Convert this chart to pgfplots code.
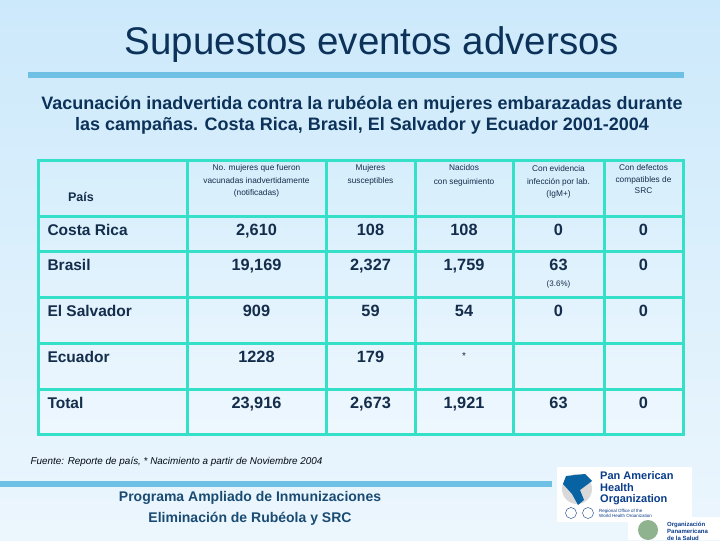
\documentclass[border=0pt]{standalone}
\usepackage{pgfplots}
\pgfplotsset{compat=1.18}
\usepackage{pgfplotstable}
\usepackage{fontspec}
\setmainfont{Liberation Sans}
\definecolor{bgtop}{RGB}{204,233,251}
\definecolor{bgbot}{RGB}{236,246,253}
\definecolor{celltop}{RGB}{214,238,252}
\definecolor{cellbot}{RGB}{238,247,254}
\definecolor{navy}{RGB}{12,50,90}
\definecolor{tnavy}{RGB}{20,45,75}
\definecolor{turq}{RGB}{52,225,200}
\definecolor{barblue}{RGB}{110,192,228}
\definecolor{progblue}{RGB}{25,75,115}
\definecolor{pahoblue}{RGB}{10,60,140}
\pgfplotstableread{
x y label
256.5 232 2,610
370.5 232 108
464 232 108
558.5 232 0
643.5 232 0
256.5 267 19,169
370.5 267 2,327
464 267 1,759
558.5 267 63
643.5 267 0
256.5 313 909
370.5 313 59
464 313 54
558.5 313 0
643.5 313 0
256.5 359 1228
370.5 359 179
256.5 405 23,916
370.5 405 2,673
464 405 1,921
558.5 405 63
643.5 405 0
}\values
\begin{document}
\begin{tikzpicture}
\begin{axis}[width=720pt,height=540pt,scale only axis,
  xmin=0,xmax=720,ymin=0,ymax=540,y dir=reverse,hide axis,clip=false]
% background
\fill[top color=bgtop,bottom color=bgbot] (axis cs:0,0) rectangle (axis cs:720,540);
% title
\node[navy,font=\fontsize{38.5}{42}\selectfont] at (axis cs:372,45) {Supuestos eventos adversos};
\fill[barblue] (axis cs:28,72) rectangle (axis cs:684,78);
\node[navy,font=\bfseries\fontsize{18}{21}\selectfont,align=center] at (axis cs:362,115)
  {Vacunación inadvertida contra la rubéola en mujeres embarazadas durante\\
   las campañas. Costa Rica, Brasil, El Salvador y Ecuador 2001-2004};
% table background
\fill[top color=celltop,bottom color=cellbot] (axis cs:38,160) rectangle (axis cs:683,434);
% grid
\pgfplotsinvokeforeach{38,187,326,415,513,604,683}{
  \draw[turq,line width=3pt] (axis cs:#1,160) -- (axis cs:#1,434);}
\pgfplotsinvokeforeach{160,216,251,297,343,389,434}{
  \draw[turq,line width=3pt] (axis cs:36.5,#1) -- (axis cs:684.5,#1);}
% header
\node[tnavy,font=\bfseries\fontsize{12.5}{14}\selectfont] at (axis cs:81,197) {País};
\begin{scope}[every node/.style={tnavy,align=center,anchor=north,font=\fontsize{8.3}{12.5}\selectfont}]
\node at (axis cs:256.5,161) {No. mujeres que fueron\\vacunadas inadvertidamente\\(notificadas)};
\node at (axis cs:370.5,161) {Mujeres\\susceptibles};
\node[font=\fontsize{8.3}{14}\selectfont] at (axis cs:464,161) {Nacidos\\con seguimiento};
\node at (axis cs:558.5,162) {Con evidencia\\infección por lab.\\(IgM+)};
\node[font=\fontsize{8.3}{11.5}\selectfont] at (axis cs:643.5,161) {Con defectos\\compatibles de\\SRC};
\end{scope}
% row labels
\begin{scope}[every node/.style={tnavy,anchor=west,font=\bfseries\fontsize{15.5}{18}\selectfont,
  text height=1.38ex,text depth=0pt}]
\node at (axis cs:44,232) {Costa Rica};
\node at (axis cs:44,267) {Brasil};
\node at (axis cs:44,313) {El Salvador};
\node at (axis cs:44,359) {Ecuador};
\node at (axis cs:44,405) {Total};
\end{scope}
% values
\addplot[draw=none,mark=none,nodes near coords,point meta=explicit symbolic,
  nodes near coords align={center},
  every node near coord/.append style={tnavy,font=\bfseries\fontsize{16.3}{18}\selectfont,
    text height=1.38ex,text depth=0pt}]
  table[x=x,y=y,meta=label] {\values};
\node[tnavy,font=\fontsize{8}{10}\selectfont] at (axis cs:558.5,284) {(3.6\%)};
\node[tnavy,font=\fontsize{10}{10}\selectfont] at (axis cs:464,356) {*};
% footnote
\node[anchor=west,font=\itshape\fontsize{9.9}{11}\selectfont,black!80!navy] at (axis cs:27,462)
  {Fuente: Reporte de país, * Nacimiento a partir de Noviembre 2004};
\fill[barblue] (axis cs:0,481) rectangle (axis cs:552,487);
\node[progblue,font=\bfseries\fontsize{14}{21}\selectfont,align=center] at (axis cs:250,508)
  {Programa Ampliado de Inmunizaciones\\Eliminación de Rubéola y SRC};
% PAHO logo
\fill[white] (axis cs:557,467) rectangle (axis cs:692,522);
\fill[white!85!black] (axis cs:577,489) circle[radius=15pt];
\fill[pahoblue!80!cyan] (axis cs:566,476) -- (axis cs:585,474) -- (axis cs:592,481) -- (axis cs:580,490) -- (axis cs:584,500) -- (axis cs:578,505) -- (axis cs:572,494) -- (axis cs:563,484) -- cycle;
\begin{scope}[every node/.style={pahoblue,anchor=west,font=\bfseries\fontsize{11}{11}\selectfont,inner sep=0pt}]
\node at (axis cs:600,476) {Pan American};
\node at (axis cs:600,488) {Health};
\node at (axis cs:600,500) {Organization};
\end{scope}
\draw[pahoblue] (axis cs:571,513) circle[radius=5.5pt];
\draw[pahoblue] (axis cs:588,513) circle[radius=5.5pt];
\node[anchor=west,pahoblue,font=\fontsize{4.5}{5}\selectfont,align=left,inner sep=0pt] at (axis cs:599,514) {Regional Office of the\\World Health Organization};
% second logo
\fill[white] (axis cs:628,517) rectangle (axis cs:720,540);
\fill[white!80!green!70!black] (axis cs:648,530) circle[radius=10pt];
\node[anchor=west,pahoblue,font=\bfseries\fontsize{6}{7}\selectfont,align=left,inner sep=0pt] at (axis cs:667,531) {Organización\\Panamericana\\de la Salud};
\end{axis}
\end{tikzpicture}
\end{document}
